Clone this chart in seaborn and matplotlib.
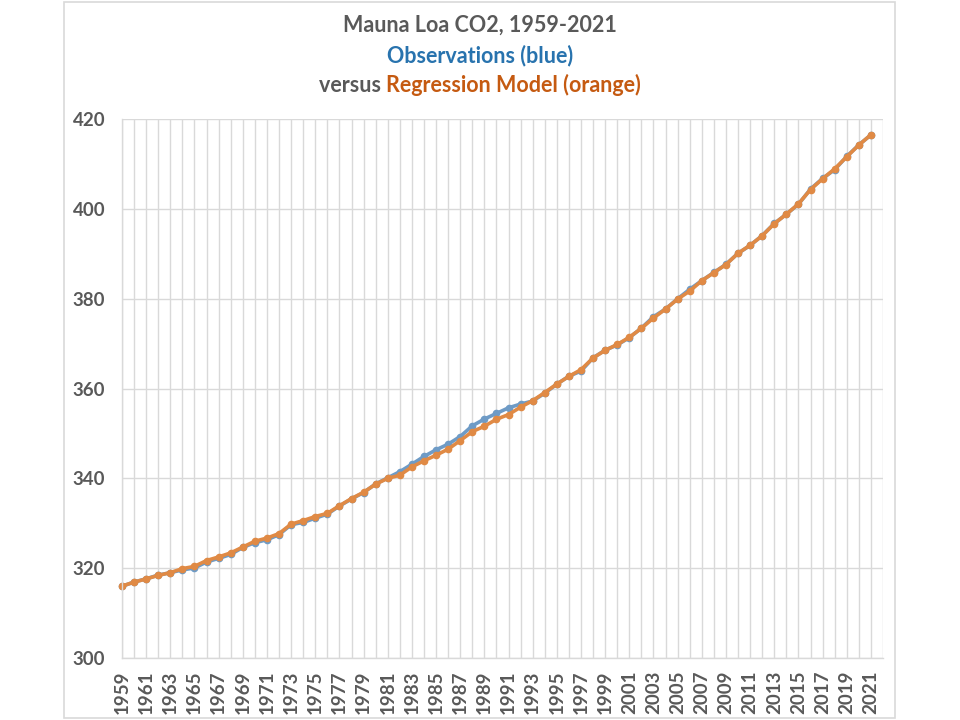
"""Mauna Loa CO2 observations versus regression model, 1959-2021."""

import matplotlib

matplotlib.use("Agg")
import matplotlib.pyplot as plt
import pandas as pd
import seaborn as sns
from matplotlib.patches import Rectangle
from matplotlib.ticker import MultipleLocator

years = list(range(1959, 2022))

observed = [
    315.98, 316.91, 317.64, 318.45, 318.99, 319.62, 320.04, 321.37, 322.18, 323.05,
    324.62, 325.68, 326.32, 327.46, 329.68, 330.19, 331.13, 332.03, 333.84, 335.41,
    336.84, 338.76, 340.12, 341.48, 343.15, 344.87, 346.35, 347.61, 349.31, 351.69,
    353.20, 354.45, 355.70, 356.54, 357.21, 358.96, 360.97, 362.74, 363.88, 366.84,
    368.54, 369.71, 371.32, 373.45, 375.98, 377.70, 379.98, 382.09, 384.02, 385.83,
    387.64, 390.10, 391.85, 394.06, 396.74, 398.81, 401.01, 404.41, 406.76, 408.72,
    411.66, 414.24, 416.45,
]

model = [
    316.0, 316.9, 317.6, 318.4, 319.0, 319.9, 320.4, 321.7, 322.5, 323.4,
    324.7, 326.0, 326.7, 327.7, 329.8, 330.6, 331.5, 332.2, 333.9, 335.5,
    336.9, 338.7, 340.0, 340.7, 342.55, 343.9, 345.15, 346.5, 348.4, 350.4,
    351.6, 353.15, 354.2, 355.85, 357.3, 359.1, 361.0, 362.7, 364.2, 366.8,
    368.5, 369.8, 371.4, 373.4, 375.7, 377.7, 379.9, 381.7, 384.0, 385.8,
    387.6, 390.1, 391.9, 394.0, 396.7, 398.8, 401.1, 404.3, 406.7, 408.9,
    411.6, 414.2, 416.5,
]

series_names = ["Observations", "Regression Model"]
y_ticks = [300, 320, 340, 360, 380, 400, 420]
x_labels = list(range(1959, 2022, 2))

title_1 = "Mauna Loa CO2, 1959-2021"
title_2 = "Observations (blue)"
title_3a = "versus "
title_3b = "Regression Model (orange)"

BLUE = "#6E9BC6"
ORANGE = "#E08A45"
GRAY = "#595959"
GRID = "#D9D9D9"
FONT = ["Lato", "DejaVu Sans"]

df = pd.DataFrame(
    {
        "year": years * 2,
        "co2": observed + model,
        "series": [series_names[0]] * len(years) + [series_names[1]] * len(years),
    }
)

sns.set_theme(style="white")
plt.rcParams["font.family"] = FONT

fig = plt.figure(figsize=(9.6, 7.2), dpi=100)
ax = fig.add_axes([122 / 960, 1 - 658 / 720, (883 - 122) / 960, (658 - 119) / 720])

sns.lineplot(
    data=df,
    x="year",
    y="co2",
    hue="series",
    palette={series_names[0]: BLUE, series_names[1]: ORANGE},
    marker="o",
    markersize=5.5,
    markeredgewidth=0,
    linewidth=2.6,
    legend=False,
    ax=ax,
)
for line in ax.lines:
    line.set_clip_on(False)

ax.set_xlim(1959, 2022)
ax.set_ylim(300, 420)
ax.set_xticks(x_labels)
ax.set_xticklabels([str(y) for y in x_labels], rotation=90)
ax.xaxis.set_minor_locator(MultipleLocator(1))
ax.set_yticks(y_ticks)
ax.grid(True, which="both", color=GRID, linewidth=1)
ax.tick_params(axis="both", which="both", length=0, labelsize=13.5, labelcolor=GRAY)
ax.tick_params(axis="y", pad=12)
ax.tick_params(axis="x", pad=9)
for lab in ax.get_xticklabels() + ax.get_yticklabels():
    lab.set_fontweight("bold")
ax.set_xlabel("")
ax.set_ylabel("")
for side in ["top", "right"]:
    ax.spines[side].set_visible(False)
for side in ["left", "bottom"]:
    ax.spines[side].set_color(GRID)
    ax.spines[side].set_linewidth(1)

# outer chart border
fig.patches.append(
    Rectangle((64 / 960, 2 / 720), (895 - 64) / 960, (718 - 2) / 720,
              transform=fig.transFigure, fill=False, edgecolor=GRID, linewidth=1.2)
)

kw = dict(fontsize=15.5, fontweight="bold", va="baseline")
fig.text(0.5, 1 - 32 / 720, title_1, color=GRAY, ha="center", **kw)
fig.text(0.5, 1 - 62 / 720, title_2, color="#2873AE", ha="center", **kw)

ta = fig.text(0.5, 1 - 92 / 720, title_3a, color=GRAY, ha="left", **kw)
tb = fig.text(0.5, 1 - 92 / 720, title_3b, color="#C55A11", ha="left", **kw)
fig.canvas.draw()
renderer = fig.canvas.get_renderer()
wa = ta.get_window_extent(renderer).width / 960
wb = tb.get_window_extent(renderer).width / 960
start = 0.5 - (wa + wb) / 2
ta.set_x(start)
tb.set_x(start + wa)

fig.savefig("out.png", dpi=100)
plt.close(fig)
